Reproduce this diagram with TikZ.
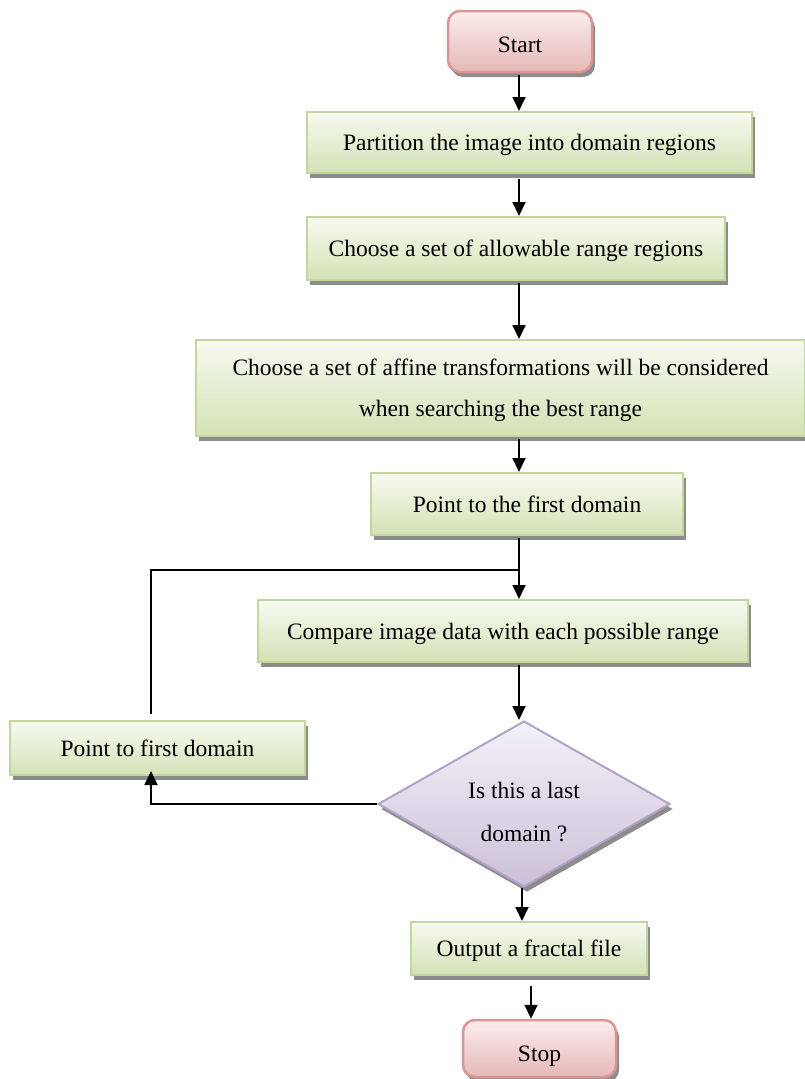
\documentclass[tikz,border=0pt]{standalone}
\usepackage{fontspec}
\setmainfont{Liberation Serif}
\usetikzlibrary{shapes.geometric,shadows,arrows.meta,calc}
\definecolor{gtop}{HTML}{F7FAF0}
\definecolor{gbot}{HTML}{D3E2B6}
\definecolor{gbor}{HTML}{C3D69B}
\definecolor{ptop}{HTML}{FBEDED}
\definecolor{pbot}{HTML}{E5B8B7}
\definecolor{pbor}{HTML}{D99694}
\definecolor{vtop}{HTML}{F4F1F8}
\definecolor{vbot}{HTML}{CBC0D9}
\definecolor{vbor}{HTML}{B3A2C7}
\begin{document}
\begin{tikzpicture}[x=1pt,y=-1pt,
 shad/.style={drop shadow={shadow xshift=3pt,shadow yshift=-5pt,fill=black!45,opacity=1}},
 txt/.style={font=\fontsize{23.5}{41}\selectfont, text depth=0pt},
 procbox/.style={rectangle, draw=gbor, line width=2pt, top color=gtop, bottom color=gbot, shad, txt, align=center, inner sep=0pt},
 termbox/.style={rectangle, rounded corners=12pt, draw=pbor, line width=2.5pt, top color=ptop, bottom color=pbot, shad, txt, inner sep=0pt},
 decbox/.style={diamond, aspect=1.75, draw=vbor, line width=2pt, top color=vtop, bottom color=vbot, shad, txt, align=center, inner sep=0pt},
 arr/.style={line width=1.8pt, -{Triangle[length=14pt,width=13pt]}},
 ln/.style={line width=1.8pt}]
\useasboundingbox (0,0) rectangle (805,1079);

\node[termbox, minimum width=144pt, minimum height=61pt, text height=22pt] (start) at (520,41.5) {Start};
\node[procbox, minimum width=445pt, minimum height=61pt] (p1) at (529.5,142.5) {Partition the image into domain regions};
\node[procbox, minimum width=418pt, minimum height=63pt] (p2) at (516,248.5) {Choose a set of allowable range regions};
\node[procbox, minimum width=609pt, minimum height=96pt] (p3) at (500.5,388) {Choose a set of affine transformations will be considered\\when searching the best range};
\node[procbox, minimum width=312pt, minimum height=62pt] (p4) at (527,504) {Point to the first domain};
\node[procbox, minimum width=490pt, minimum height=62pt] (cmp) at (503,631) {Compare image data with each possible range};
\node[decbox, minimum width=292pt, minimum height=166pt] (dia) at (524,804) {\rule{0pt}{31pt}Is this a last\\[2pt]domain ?};
\node[procbox, minimum width=295pt, minimum height=54pt] (left) at (157.5,748) {Point to first domain};
\node[procbox, minimum width=236pt, minimum height=53pt] (out) at (529,948.5) {Output a fractal file};
\node[termbox, minimum width=153pt, minimum height=57pt, text height=26pt] (stop) at (539.5,1048.5) {Stop};

\coordinate (sx) at (519,0);
\coordinate (ox) at (522,0);
\coordinate (tx) at (531,0);
\coordinate (lx) at (151,0);
\coordinate (j) at (519,570);

\draw[arr, shorten <=2pt] (start.south -| sx) -- (p1.north -| sx);
\draw[arr, shorten <=5pt] (p1.south -| sx) -- (p2.north -| sx);
\draw[arr, shorten <=2pt] (p2.south -| sx) -- (p3.north -| sx);
\draw[arr, shorten <=2pt] (p3.south -| sx) -- (p4.north -| sx);
\draw[arr, shorten <=2pt] (p4.south -| sx) -- (cmp.north -| sx);
\draw[arr, shorten <=2pt] (cmp.south -| sx) -- (dia.north -| sx);
\draw[arr] (dia.west) -- (dia.west -| lx) -- ([yshift=5pt]left.south -| lx);
\draw[ln, shorten <=6pt] (left.north -| lx) -- (j -| lx) -- (j);
\draw[arr] (dia.south -| ox) -- (out.north -| ox);
\draw[arr, shorten <=10pt] (out.south -| tx) -- (stop.north -| tx);
\end{tikzpicture}
\end{document}
